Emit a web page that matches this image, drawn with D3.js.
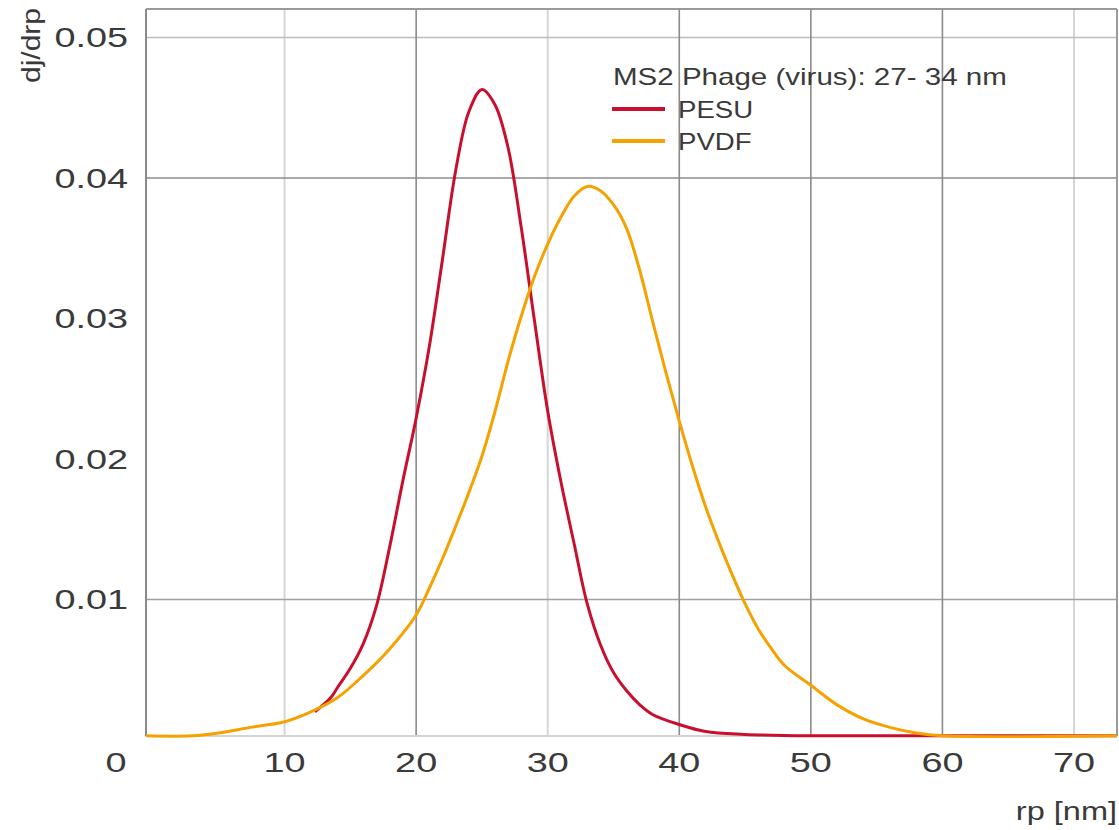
<!DOCTYPE html>
<html>
<head>
<meta charset="utf-8">
<script src="https://cdn.jsdelivr.net/npm/d3@7"></script>
<style>
  html, body { margin: 0; padding: 0; background: #fff; }
  svg { display: block; }
  text { font-family: "Liberation Sans", Arial, Helvetica, sans-serif; fill: #3a3a3a; }
</style>
</head>
<body>
<svg id="chart" width="1119" height="830"></svg>
<script>
// pore radius rp [nm] and dj/drp
var pesuRp  = [12.3, 13.5, 14, 15, 16, 17, 18, 19, 20, 21, 22, 23, 24, 25, 26, 27, 28, 29, 30, 31, 32, 33, 34, 35, 36, 37, 38, 40, 42, 45, 50, 60, 73.5];
var pesuVal = [0.0020, 0.0030, 0.0037, 0.0051, 0.0069, 0.0096, 0.0138, 0.0185, 0.0229, 0.0280, 0.0342, 0.0405, 0.0447, 0.0463, 0.0452, 0.0421, 0.0364, 0.0298, 0.0234, 0.0184, 0.0140, 0.0097, 0.0068, 0.0048, 0.0035, 0.0025, 0.0018, 0.0011, 0.0006, 0.0004, 0.0003, 0.0003, 0.0003];

var pvdfRp  = [-0.6, 3, 5, 7.4, 10, 12, 14, 16, 18, 20, 21, 22, 23, 24, 25, 26, 27, 28, 29, 30, 31, 32, 33, 34, 35, 36, 37, 38, 39, 40, 41, 42, 43, 44, 45, 46, 47, 48, 50, 52, 54, 56, 58, 60, 73.5];
var pvdfVal = [0.0003, 0.0003, 0.0005, 0.0009, 0.0013, 0.0020, 0.0030, 0.0046, 0.0065, 0.0089, 0.0108, 0.0129, 0.0152, 0.0176, 0.0202, 0.0234, 0.0270, 0.0302, 0.0330, 0.0353, 0.0372, 0.0387, 0.0394, 0.0391, 0.0381, 0.0364, 0.0334, 0.0297, 0.0261, 0.0227, 0.0195, 0.0166, 0.0141, 0.0118, 0.0097, 0.0079, 0.0065, 0.0053, 0.0039, 0.0025, 0.0015, 0.0009, 0.0005, 0.0003, 0.0003];

var seriesNames  = ["PESU", "PVDF"];
var seriesColors = ["#c8102e", "#f5a100"];
var legendTitle  = "MS2 Phage (virus): 27- 34 nm";

var xTicks      = [10, 20, 30, 40, 50, 60, 70];
var xGridDark   = [20, 40, 50, 60];
var xGridLight  = [10, 30, 70];
var yTicks      = [0.01, 0.02, 0.03, 0.04, 0.05];
var yGridLines  = [0.01, 0.04, 0.05];
var yGridColors = ["#a0a0a0", "#8c8c8c", "#bdbdbd"];

var svg = d3.select("#chart");

// plot frame (note: "top" is reserved on window, so prefixed names)
var plotLeft = 146, plotRight = 1117, plotTop = 9, plotBottom = 736;

var x = d3.scaleLinear().domain([0, 70]).range([153, 1074]);
var y = d3.scaleLinear().domain([0, 0.05]).range([740, 37.5]);

// the text in the source is drawn wide, so stretch labels sideways
function widen(sel, k) {
    sel.each(function() {
        var w = this.getComputedTextLength();
        d3.select(this).attr("textLength", w * k).attr("lengthAdjust", "spacingAndGlyphs");
    });
    return sel;
}

// grid
svg.append("g").selectAll("line").data(xGridLight).enter().append("line")
    .attr("x1", function(d) { return x(d); }).attr("x2", function(d) { return x(d); })
    .attr("y1", plotTop).attr("y2", plotBottom)
    .attr("stroke", "#d6d6d6").attr("stroke-width", 2);

svg.append("g").selectAll("line").data(yGridLines).enter().append("line")
    .attr("x1", plotLeft).attr("x2", plotRight)
    .attr("y1", function(d) { return y(d); }).attr("y2", function(d) { return y(d); })
    .attr("stroke", function(d, i) { return yGridColors[i]; }).attr("stroke-width", 1.6);

svg.append("g").selectAll("line").data(xGridDark).enter().append("line")
    .attr("x1", function(d) { return x(d); }).attr("x2", function(d) { return x(d); })
    .attr("y1", plotTop).attr("y2", plotBottom)
    .attr("stroke", "#8a8a8a").attr("stroke-width", 1.6);

// frame
svg.append("line").attr("x1", plotLeft).attr("x2", plotRight).attr("y1", plotBottom).attr("y2", plotBottom)
    .attr("stroke", "#d4d4d4").attr("stroke-width", 2);
svg.append("line").attr("x1", plotLeft).attr("x2", plotRight).attr("y1", plotTop).attr("y2", plotTop)
    .attr("stroke", "#999").attr("stroke-width", 2);
svg.append("line").attr("x1", plotLeft).attr("x2", plotLeft).attr("y1", plotTop).attr("y2", plotBottom)
    .attr("stroke", "#8a8a8a").attr("stroke-width", 2);
svg.append("line").attr("x1", plotRight).attr("x2", plotRight).attr("y1", plotTop).attr("y2", plotBottom)
    .attr("stroke", "#9a9a9a").attr("stroke-width", 2);

// curves
var line = d3.line()
    .x(function(d) { return x(d[0]); })
    .y(function(d) { return y(d[1]); })
    .curve(d3.curveCatmullRom.alpha(0.5));

svg.append("defs").append("clipPath").attr("id", "plotClip")
    .append("rect").attr("x", plotLeft).attr("y", plotTop)
    .attr("width", plotRight - plotLeft).attr("height", plotBottom - plotTop + 2);

var curves = [d3.zip(pesuRp, pesuVal), d3.zip(pvdfRp, pvdfVal)];
svg.append("g").attr("clip-path", "url(#plotClip)")
    .selectAll("path").data(curves).enter().append("path")
    .attr("d", function(d) { return line(d); })
    .attr("fill", "none")
    .attr("stroke", function(d, i) { return seriesColors[i]; })
    .attr("stroke-width", 3);

// y tick labels
widen(svg.append("g").selectAll("text").data(yTicks).enter().append("text")
    .attr("x", 128).attr("y", function(d) { return y(d); })
    .attr("dy", "0.36em")
    .attr("text-anchor", "end")
    .style("font-size", "27px")
    .text(function(d) { return d3.format(".2f")(d); }), 1.4);

// x tick labels
widen(svg.append("g").selectAll("text").data(xTicks).enter().append("text")
    .attr("x", function(d) { return x(d); }).attr("y", 772)
    .attr("text-anchor", "middle")
    .style("font-size", "27px")
    .text(function(d) { return d; }), 1.4);

// origin label sits left of the frame
widen(svg.append("text").attr("x", x(0) - 37).attr("y", 772)
    .attr("text-anchor", "middle").style("font-size", "27px").text("0"), 1.4);

// axis titles
widen(svg.append("text").attr("x", 1117).attr("y", 820)
    .attr("text-anchor", "end").style("font-size", "25px").text("rp [nm]"), 1.3);

widen(svg.append("text")
    .attr("transform", "translate(40,83) rotate(-90)")
    .attr("text-anchor", "start").style("font-size", "25px").text("dj/drp"), 1.2);

// legend
var lg = svg.append("g").attr("transform", "translate(612,0)");
widen(lg.append("text").attr("x", 1).attr("y", 85).style("font-size", "24px").text(legendTitle), 1.23);
var items = lg.selectAll("g.item").data(seriesNames).enter().append("g")
    .attr("class", "item")
    .attr("transform", function(d, i) { return "translate(0," + (109 + i * 32) + ")"; });
items.append("line").attr("x1", 0).attr("x2", 53).attr("y1", 0).attr("y2", 0)
    .attr("stroke", function(d, i) { return seriesColors[i]; }).attr("stroke-width", 4);
widen(items.append("text").attr("x", 66).attr("y", 9).style("font-size", "24px")
    .text(function(d) { return d; }), 1.15);
</script>
</body>
</html>
